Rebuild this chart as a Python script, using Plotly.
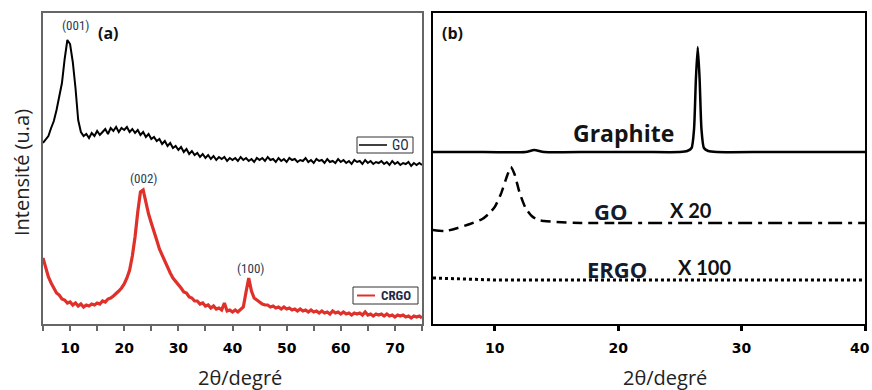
import plotly.graph_objects as go

# ---------------- Panel (a) data: 2θ from 5 to 75 step 0.5 ----------------
theta_a_start, theta_a_step = 5.0, 0.5
go_a = [181, 184, 188, 196, 203, 214, 226, 241, 265, 284, 280, 262, 236, 204, 192, 188,
        190, 186, 191, 188, 193, 189, 192, 195, 190, 196, 193, 197, 192, 196, 194, 197,
        192, 195, 191, 194, 189, 192, 187, 190, 185, 187, 183, 185, 180, 183, 178, 181,
        176, 178, 174, 177, 172, 175, 170, 173, 169, 171, 167, 170, 166, 169, 165, 168,
        164, 167, 165, 167, 163, 166, 164, 166,
        163, 167, 164, 166, 163, 165, 162, 166, 164, 166, 163, 167, 164, 165, 162, 166,
        163, 165, 162, 166, 164, 165, 162, 164, 163, 166, 162, 164, 161, 165, 163, 164,
        161, 165, 162, 163, 161, 165, 162, 164, 161, 163, 160, 164, 162, 163, 160, 164,
        161, 163, 160, 162, 161, 163, 160, 162, 159, 163, 160, 162, 159, 161, 160, 162,
        158, 161, 159, 161, 159]
crgo_a = [66, 55, 47, 41, 36, 31, 29, 25, 24, 21, 22, 19, 21, 18, 20, 17,
          19, 18, 20, 19, 21, 20, 23, 22, 25, 26, 28, 30, 33, 36, 40, 46,
          54, 68, 87, 112, 132, 134, 120, 110, 101, 91, 84, 75, 69, 62, 57, 51,
          46, 43, 39, 36, 32, 31, 27, 26, 23, 23, 20, 21, 18, 19, 16, 18,
          15, 16, 14, 21, 13, 14, 12, 14, 12, 15, 17, 32, 46, 33, 26, 24,
          22, 20, 19, 19, 17, 18, 16, 17, 15, 17, 15, 16, 14, 15, 13, 15,
          13, 14, 12, 14, 12, 13, 11, 13, 11, 12, 10, 13, 11, 12, 10, 12,
          10, 11, 9, 11, 10, 11, 9, 12, 9, 10, 8, 10, 9, 10, 8, 10,
          8, 9, 7, 9, 8, 9, 7, 8, 6, 8, 7, 8, 6]
theta_go_a = [theta_a_start + i * theta_a_step for i in range(len(go_a))]
theta_crgo_a = [theta_a_start + i * theta_a_step for i in range(len(crgo_a))]

ticks_a = [5, 10, 15, 20, 25, 30, 35, 40, 45, 50, 55, 60, 65, 70, 75]
ticklabels_a = ["", "10", "", "20", "", "30", "", "40", "", "50", "", "60", "", "70", ""]

# ---------------- Panel (b) data ----------------
theta_graphite = [5, 8, 12.5, 13.2, 14, 18, 22, 25, 25.6, 25.95, 26.15, 26.3, 26.45,
                  26.6, 26.75, 26.95, 27.3, 28, 32, 36, 40]
graphite = [172, 172, 172, 174, 172, 172, 172, 172, 173, 176, 195, 245, 277,
            245, 195, 176, 173, 172, 172, 172, 172]
theta_go_b1 = [5, 6, 7, 8, 9, 9.5, 10, 10.5, 11, 11.3, 11.6, 12, 12.5, 13, 13.5, 14, 15, 17, 20]
go_b1 = [94, 93, 96, 100, 105, 110, 117, 130, 148, 157, 150, 132, 116, 108, 104, 103, 102, 101, 101]
theta_go_b2 = [20, 25, 30, 35, 40]
go_b2 = [101, 101, 101, 101, 101]
theta_ergo = [5, 7, 10, 15, 20, 25, 30, 35, 40]
ergo = [46, 45, 44, 44, 44, 44, 44, 44, 44]
ticks_b = [10, 20, 30, 40]
ticklabels_b = ["10", "20", "30", "40"]

W, H = 872, 390
def px(x):
    return x / W
def py(y):
    return 1 - y / H

fig = go.Figure()
red = "#e0302a"
fig.add_trace(go.Scatter(x=theta_go_a, y=go_a, mode="lines", name="GO",
                         line=dict(color="black", width=2.0), showlegend=False))
fig.add_trace(go.Scatter(x=theta_crgo_a, y=crgo_a, mode="lines", name="CRGO",
                         line=dict(color=red, width=3.2), showlegend=False))

fig.add_trace(go.Scatter(x=theta_graphite, y=graphite, mode="lines", name="Graphite",
                         line=dict(color="black", width=2.5, shape="spline", smoothing=0.6),
                         xaxis="x2", yaxis="y2", showlegend=False))
fig.add_trace(go.Scatter(x=theta_go_b1, y=go_b1, mode="lines", name="GO x20",
                         line=dict(color="black", width=2.5, dash="10px,6px", shape="spline", smoothing=0.6),
                         xaxis="x2", yaxis="y2", showlegend=False))
fig.add_trace(go.Scatter(x=theta_go_b2, y=go_b2, mode="lines", name="GO x20",
                         line=dict(color="black", width=2.5, dash="14px,6px,4px,6px"),
                         xaxis="x2", yaxis="y2", showlegend=False))
fig.add_trace(go.Scatter(x=theta_ergo, y=ergo, mode="lines", name="ERGO x100",
                         line=dict(color="black", width=3, dash="3px,3px"),
                         xaxis="x2", yaxis="y2", showlegend=False))

ydom = [py(324), py(13)]
tickfont = dict(family="DejaVu Sans", size=14, color="black", weight="bold")

fig.update_layout(
    width=W, height=H, margin=dict(l=0, r=0, t=0, b=0),
    paper_bgcolor="white", plot_bgcolor="white",
    xaxis=dict(domain=[px(43), px(422)], range=[5, 75], tickmode="array",
               tickvals=ticks_a, ticktext=ticklabels_a, ticks="outside", ticklen=5,
               tickwidth=1.5, tickcolor="#666666", showline=True, linecolor="#666666",
               linewidth=1.5, mirror=True, showgrid=False, zeroline=False,
               tickfont=tickfont, ticklabelstandoff=5),
    yaxis=dict(domain=ydom, range=[0, 311], showticklabels=False, ticks="",
               showline=True, linecolor="#666666", linewidth=1.5, mirror=True,
               showgrid=False, zeroline=False),
    xaxis2=dict(domain=[px(433), px(865)], range=[5, 40], tickmode="array",
                tickvals=ticks_b, ticktext=ticklabels_b[:-1] + [""], ticks="outside",
                ticklen=5, tickwidth=2.5, tickcolor="black", showline=True,
                linecolor="black", linewidth=2, mirror=True, showgrid=False,
                zeroline=False, anchor="y2", tickfont=tickfont, ticklabelstandoff=5),
    yaxis2=dict(domain=ydom, range=[0, 311], showticklabels=False, ticks="",
                showline=True, linecolor="black", linewidth=2, mirror=True,
                showgrid=False, zeroline=False, anchor="x2"),
)

# legend boxes drawn as shapes
shapes = [
    dict(type="rect", xref="paper", yref="paper", x0=px(357), x1=px(413), y0=py(153), y1=py(137),
         line=dict(color="#333333", width=1), fillcolor="white", layer="above"),
    dict(type="line", xref="paper", yref="paper", x0=px(359), x1=px(387), y0=py(145), y1=py(145),
         line=dict(color="black", width=1.5), layer="above"),
    dict(type="rect", xref="paper", yref="paper", x0=px(353), x1=px(418), y0=py(304), y1=py(287),
         line=dict(color="#333333", width=1), fillcolor="white", layer="above"),
    dict(type="line", xref="paper", yref="paper", x0=px(357), x1=px(375), y0=py(295.5), y1=py(295.5),
         line=dict(color=red, width=2), layer="above"),
]
fig.update_layout(shapes=shapes)

ann = []
def A(text, x, y, size, family, color="black", weight="normal", angle=0, xanchor="center"):
    ann.append(dict(text=text, x=px(x), y=py(y), xref="paper", yref="paper",
                    showarrow=False, xanchor=xanchor, yanchor="middle", textangle=angle,
                    font=dict(family=family, size=size, color=color, weight=weight)))

peakfont = "Liberation Sans Narrow, Roboto Condensed, Roboto"
A("GO", 400, 145, 14, peakfont, "#1c2a48")
A("CRGO", 396, 295.5, 13, peakfont, "#1c2a48", "bold")
A("(001)", 75, 26, 13, peakfont, "#2c3a52")
A("(002)", 143, 179, 13, peakfont, "#2c3a52")
A("(100)", 250, 268, 13, peakfont, "#2c3a52")
A("(a)", 108, 33, 16, "Open Sans", "#111111", "bold")
A("(b)", 452, 33, 16, "Open Sans", "#111111", "bold")
A("Graphite", 623, 133, 23, "Open Sans", "#141414", "bold")
A("GO", 610, 211, 22, "Open Sans", "#141c2e", "bold")
A("X 20", 691, 210, 20, "Lato", "#111111", "bold")
A("ERGO", 617, 269, 22, "Open Sans", "#141c2e", "bold")
A("X 100", 704, 267, 20, "Lato", "#111111", "bold")
A("2θ/degré", 240, 377, 20, "Open Sans", "#222222")
A("2θ/degré", 665, 377, 20, "Open Sans", "#222222")
A("Intensité (u.a)", 21, 173, 20, "Open Sans", "#222222", angle=-90)
# last tick label of panel (b) sits on the window edge: placed inside the page
A(ticklabels_b[-1], 872, 348, 14, "DejaVu Sans", "black", "bold", xanchor="right")
fig.update_layout(annotations=ann)

# remove the default 8px page margin so the figure sits at the window's top-left corner
fig.write_html("out.html", config={"displayModeBar": False},
               post_script="document.body.style.margin='0';document.body.style.overflow='hidden';")
